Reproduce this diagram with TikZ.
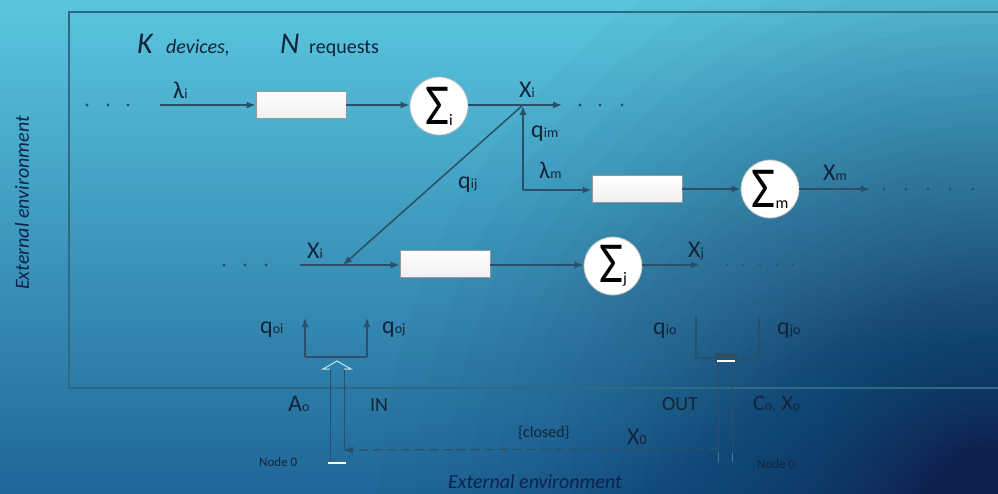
\documentclass[tikz,border=0pt]{standalone}
\usepackage{fontspec}
\setmainfont{Carlito}
\usetikzlibrary{arrows.meta}

% palette
\definecolor{bgtop}{HTML}{5AC6DE}
\definecolor{bgmid}{HTML}{47B0D1}
\definecolor{bgbot}{HTML}{1F6698}
\definecolor{navy}{HTML}{0E224E}
\definecolor{linec}{HTML}{2A5069}
\definecolor{framec}{HTML}{2D6A84}
\definecolor{txt}{HTML}{13243A}
\definecolor{boxedge}{HTML}{8E9AA3}

% label with a small subscript
\newcommand\lab[3][24]{{\fontsize{#1}{#1}\selectfont #2}{\fontsize{14}{14}\selectfont #3}}
\newcommand\sumlab[1]{\scalebox{0.9}[1]{\fontsize{58}{58}\selectfont Σ}\raisebox{-1pt}{\fontsize{16}{16}\selectfont #1}}

\tikzset{
  wire/.style={draw=linec, line width=1.5pt},
  arr/.style={wire, -{Latex[length=9pt,width=7pt]}},
  qbox/.style={draw=boxedge, line width=0.9pt, top color=white, bottom color=black!6,
    minimum width=90pt, minimum height=27pt, inner sep=0pt},
  sumnode/.style={circle, draw=black!25, line width=0.8pt, fill=white,
    minimum size=58pt, inner sep=0pt, text=black},
  lbl/.style={text=txt, inner sep=0pt, anchor=base west},
  dotc/.style={fill=linec, circle, inner sep=0pt, minimum size=3.4pt},
  sdot/.style={fill=linec, circle, inner sep=0pt, minimum size=2.4pt},
}

\begin{document}
\begin{tikzpicture}[x=1pt,y=-1pt]
% background: vertical gradient darkened towards the lower right corner
\path[use as bounding box] (0,0) rectangle (998,493);
\begin{scope}
  \clip (0,0) rectangle (998,493);
  \shade[top color=bgtop, middle color=bgmid, bottom color=bgbot] (0,0) rectangle (998,493);
  \foreach \n in {1,...,90}{
    \pgfmathsetmacro\f{1-0.975^\n}
    \pgfmathsetmacro\r{max(2,680*(1-(\f/0.9)^(2/3)))}
    \fill[navy, opacity=0.025] (998,505) circle [radius=\r pt];
  }
\end{scope}

% frame of the network
\draw[framec, line width=1.3pt] (998,12) -- (69,12) -- (69,388) -- (998,388);

% title
\node[lbl] (K) at (137,53) {\fontsize{30}{30}\selectfont\itshape K};
\node[lbl] (dev) at (166,53) {\fontsize{20}{20}\selectfont\itshape devices,};
\node[lbl] (N) at (280,53) {\fontsize{30}{30}\selectfont\itshape N};
\node[lbl] (req) at (309,53) {\fontsize{20}{20}\selectfont requests};

% ---- row i ----
\foreach \x [count=\k] in {87,108,128} \node[dotc] (ldot\k) at (\x,105) {};
\coordinate (in1) at (160,105);
\node[qbox] (bi) at (301,105) {};
\node[sumnode] (si) at (439,106) {\sumlab{i}};
\coordinate (J) at (523,105);
\coordinate (out1) at (562,105);
\foreach \x [count=\k] in {580,600,622} \node[dotc] (rdot\k) at (\x,105) {};
\draw[arr] (in1) -- (bi.west);
\draw[arr] (bi.east) -- (si.west |- bi.east);
\draw[arr] (si.east |- out1) -- (out1);
\node[lbl] (lami) at (173,98) {\lab{λ}{i}};
\node[lbl] (Xi1) at (519,97) {\lab{X}{i}};

% ---- row m ----
\coordinate (C) at (523,190);
\node[qbox] (bm) at (637,189) {};
\node[sumnode] (sm) at (770,189) {\sumlab{m}};
\coordinate (outm) at (870,189);
\foreach \x [count=\k] in {884,906,928,950,973} \node[dotc] (mdot\k) at (\x,189) {};
\draw[arr, shorten >=1pt] (C) -- (J);
\draw[arr] (C) -- (bm.west |- C);
\draw[arr] (bm.east) -- (sm.west);
\draw[arr] (sm.east) -- (outm);
\node[lbl] (qim) at (531,137) {\lab{q}{im}};
\node[lbl] (lamm) at (539,178) {\lab{λ}{m}};
\node[lbl] (Xm) at (823,180) {\lab{X}{m}};

% ---- row j ----
\foreach \x [count=\k] in {224,245,266} \node[dotc] (jdot\k) at (\x,265) {};
\coordinate (inj) at (300,265);
\coordinate (D) at (343,265);
\node[qbox] (bj) at (445,264) {};
\node[sumnode] (sj) at (613,266) {\sumlab{j}};
\coordinate (outj) at (700,265);
\foreach \x [count=\k] in {727,743,760,777,793} \node[sdot] (odot\k) at (\x,265) {};
\draw[arr] (inj) -- (bj.west |- inj);
\draw[arr] (bj.east |- inj) -- (sj.west |- inj);
\draw[arr] (sj.east |- outj) -- (outj);
\draw[arr] (J) -- (D);
\node[lbl] (qij) at (458,188) {\lab{q}{ij}};
\node[lbl] (Xi2) at (307,258) {\lab{X}{i}};
\node[lbl] (Xj) at (688,257) {\lab{X}{j}};

% ---- entry from node 0 ----
\coordinate (f1) at (305,357);
\coordinate (f2) at (367,357);
\coordinate (u1) at (305,318);
\coordinate (u2) at (367,318);
\draw[wire] (f1) -- (f2);
\draw[arr] (f1) -- (u1);
\draw[arr] (f2) -- (u2);
\node[lbl] (qoi) at (260,333) {\lab{q}{oi}};
\node[lbl] (qoj) at (382,333) {\lab{q}{oj}};
% hollow feed arrow
\coordinate (inL) at (330,463);
\coordinate (inR) at (344,450);
\draw[linec, line width=1pt] (inL) -- (330,369);
\draw[linec, line width=1pt] (inR) -- (344,369);
\draw[white!75!cyan, line width=1pt, line join=miter]
  (330,369) -- (323,369) -- (337,361) -- (351,369) -- (344,369);
\draw[white, line width=2.4pt] (328,463) -- (346,463);
\node[lbl] (A0) at (288,411) {\lab{A}{o}};
\node[lbl] (IN) at (370,411) {\fontsize{20}{20}\selectfont IN};
\node[lbl] (n0l) at (259,466) {\fontsize{13}{13}\selectfont Node 0};

% ---- exit to node 0 ----
\coordinate (g1) at (696,317);
\coordinate (g2) at (759,317);
\draw[wire] (g1) -- (696,358) -- (759,358) -- (g2);
\fill[linec] (715,353) rectangle (737,362);
\draw[white, line width=1.6pt] (717,361) -- (735,361);
\coordinate (oL) at (718,449);
\draw[linec, line width=1pt] (718,363) -- (718,453);
\draw[linec, line width=1pt] (732,363) -- (732,453);
\draw[white, opacity=0.25, line width=1pt] (718,453) -- (718,462) (732,453) -- (732,462);
\draw[linec, line width=1.2pt, dash pattern=on 9pt off 5pt, -{Latex[length=9pt,width=7pt]}] (oL) -- (inR);
\node[lbl] (qio) at (653,334) {\lab{q}{io}};
\node[lbl] (qjo) at (777,334) {\lab{q}{jo}};
\node[lbl] (OUT) at (662,410) {\fontsize{20}{20}\selectfont OUT};
\node[lbl] (C0) at (753,410) {\lab[22]{C}{o,}\hspace{6pt}\lab[22]{X}{o}};
\node[lbl] (closed) at (518,437) {\fontsize{16}{16}\selectfont \{closed\}};
\node[lbl] (X0) at (627,444) {\lab{X}{0}};
\node[lbl] (n0r) at (757,468) {\fontsize{13}{13}\selectfont Node 0};

% surroundings
\node[text=navy, inner sep=0pt] (envb) at (535,482)
  {\fontsize{20}{20}\selectfont\itshape External environment};
\node[text=navy, inner sep=0pt, rotate=90] (envl) at (22,203)
  {\fontsize{20}{20}\selectfont\itshape External environment};
\end{tikzpicture}
\end{document}
